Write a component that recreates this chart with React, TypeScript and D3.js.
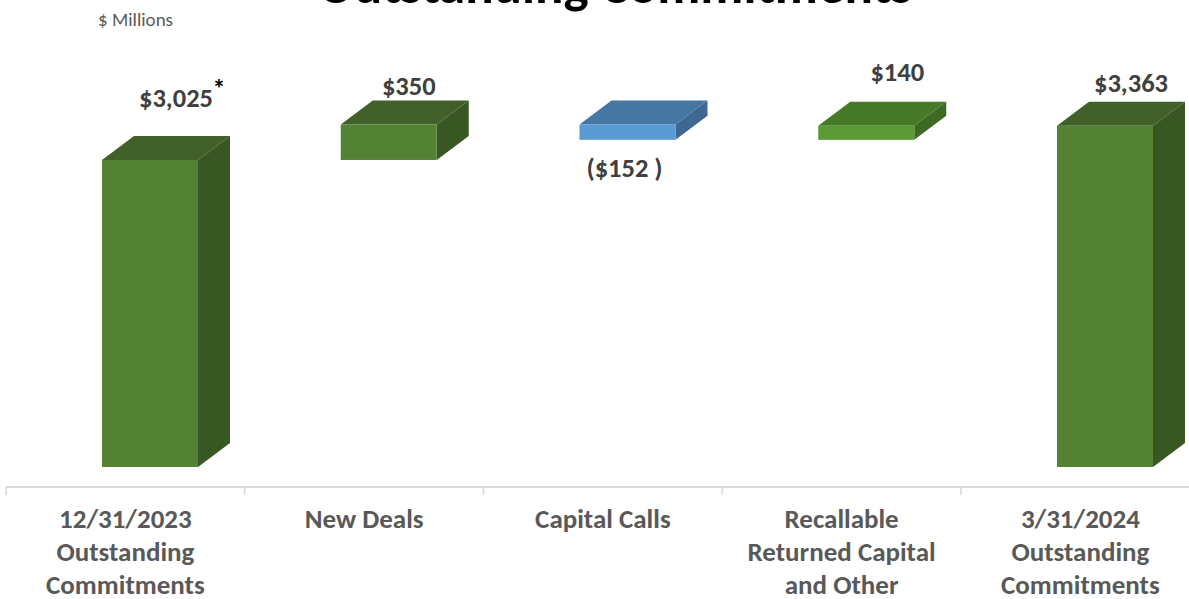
import React, { useEffect, useRef } from 'react';
import * as d3 from 'd3';

// Chart data ($ millions)
const categories = [
  '12/31/2023 Outstanding Commitments',
  'New Deals',
  'Capital Calls',
  'Recallable Returned Capital and Other',
  '3/31/2024 Outstanding Commitments',
];
const categoryLines = [
  ['12/31/2023', 'Outstanding', 'Commitments'],
  ['New Deals'],
  ['Capital Calls'],
  ['Recallable', 'Returned Capital', 'and Other'],
  ['3/31/2024', 'Outstanding', 'Commitments'],
];
const values = [3025, 350, -152, 140, 3363];
const kinds = ['total', 'increase', 'decrease', 'increase', 'total'];
const valueLabels = ['$3,025', '$350', '($152 )', '$140', '$3,363'];

const W = 1189;
const H = 599;

const App = () => {
  const svgRef = useRef<SVGSVGElement>(null);

  useEffect(() => {
    const svg = d3.select(svgRef.current);
    svg.selectAll('*').remove();

    const font = 'Carlito, Calibri, Lato, sans-serif';

    // Waterfall start/end for each step
    let running = 0;
    const steps = values.map((v, i) => {
      let lo, hi;
      if (kinds[i] === 'total') {
        lo = 0; hi = v; running = v;
      } else {
        const prev = running;
        running += v;
        lo = Math.min(prev, running); hi = Math.max(prev, running);
      }
      return { cat: categories[i], lo, hi, kind: kinds[i], label: valueLabels[i], i };
    });

    const x = d3.scaleBand().domain(categories).range([6, 1199.75]);
    const y = d3.scaleLinear().domain([0, 3400]).range([467, 121.9]);

    // 3D depth of the boxes
    const dx = 32, dy = -24;
    const frontOffset = 96, frontW = 96;

    const palette = {
      total: { front: '#548235', top: '#41602a', side: '#385723' },
      increase: { front: '#548235', top: '#41602a', side: '#385723' },
      decrease: { front: '#5b9bd5', top: '#4677a3', side: '#3c6891' },
    };
    const recallColors = { front: '#5b9a35', top: '#467a29', side: '#3c6a23' };

    // Title (cut at the top edge as in the source)
    svg.append('text')
      .attr('x', 615).attr('y', 3)
      .attr('text-anchor', 'middle')
      .attr('font-family', font)
      .attr('font-weight', 'bold')
      .attr('font-size', 53)
      .attr('fill', '#000')
      .text('Outstanding Commitments');

    svg.append('text')
      .attr('x', 98).attr('y', 26)
      .attr('font-family', font)
      .attr('font-size', 19)
      .attr('fill', '#595959')
      .text('$ Millions');

    // Category axis
    svg.append('line')
      .attr('x1', 6).attr('x2', W)
      .attr('y1', 487).attr('y2', 487)
      .attr('stroke', '#d9d9d9').attr('stroke-width', 2);
    categories.forEach(c => {
      svg.append('line')
        .attr('x1', x(c)!).attr('x2', x(c)!)
        .attr('y1', 487).attr('y2', 495)
        .attr('stroke', '#d9d9d9').attr('stroke-width', 1.5);
    });

    // Boxes
    const boxes = svg.selectAll('.box').data(steps).enter().append('g').attr('class', 'box');
    boxes.each(function (d) {
      const g = d3.select(this);
      const col = d.i === 3 ? recallColors : palette[d.kind as keyof typeof palette];
      const x0 = x(d.cat)! + frontOffset;
      const x1 = x0 + frontW;
      const yt = y(d.hi);
      const yb = y(d.lo);
      g.append('polygon')
        .attr('points', [[x0, yt], [x0 + dx, yt + dy], [x1 + dx, yt + dy], [x1, yt]].join(' '))
        .attr('fill', col.top);
      g.append('polygon')
        .attr('points', [[x1, yt], [x1 + dx, yt + dy], [x1 + dx, yb + dy], [x1, yb]].join(' '))
        .attr('fill', col.side);
      g.append('rect')
        .attr('x', x0).attr('y', yt)
        .attr('width', frontW).attr('height', yb - yt)
        .attr('fill', col.front);
    });

    // Value labels (nudges follow the source's label placement)
    const labelNudge = [
      { dx: 26, dy: -53 },
      { dx: 20, dy: -29 },
      { dx: -3, dy: 37 },
      { dx: 31, dy: -45 },
      { dx: 26, dy: -34 },
    ];
    steps.forEach((d, i) => {
      const cx = x(d.cat)! + frontOffset + frontW / 2 + labelNudge[i].dx;
      const base = d.kind === 'decrease' ? y(d.lo) : y(d.hi);
      svg.append('text')
        .attr('x', cx).attr('y', base + labelNudge[i].dy)
        .attr('text-anchor', 'middle')
        .attr('font-family', font)
        .attr('font-weight', 'bold')
        .attr('font-size', 26.5)
        .attr('fill', '#404040')
        .text(d.label);
    });

    // Footnote marker on the opening balance
    svg.append('text')
      .attr('x', 219).attr('y', 98)
      .attr('text-anchor', 'middle')
      .attr('font-family', font)
      .attr('font-weight', 'bold')
      .attr('font-size', 26)
      .attr('fill', '#000')
      .text('*');

    // Category labels
    categoryLines.forEach((lines, i) => {
      const cx = x(categories[i])! + x.bandwidth() / 2;
      const t = svg.append('text')
        .attr('text-anchor', 'middle')
        .attr('font-family', font)
        .attr('font-weight', 'bold')
        .attr('font-size', 27)
        .attr('fill', '#595959');
      lines.forEach((ln, j) => {
        t.append('tspan').attr('x', cx).attr('y', 528 + j * 33).text(ln);
      });
    });
  }, []);

  return (
    <svg
      ref={svgRef}
      width={W}
      height={H}
      style={{ position: 'absolute', left: 0, top: 0, background: '#fff' }}
    />
  );
};

export default App;
